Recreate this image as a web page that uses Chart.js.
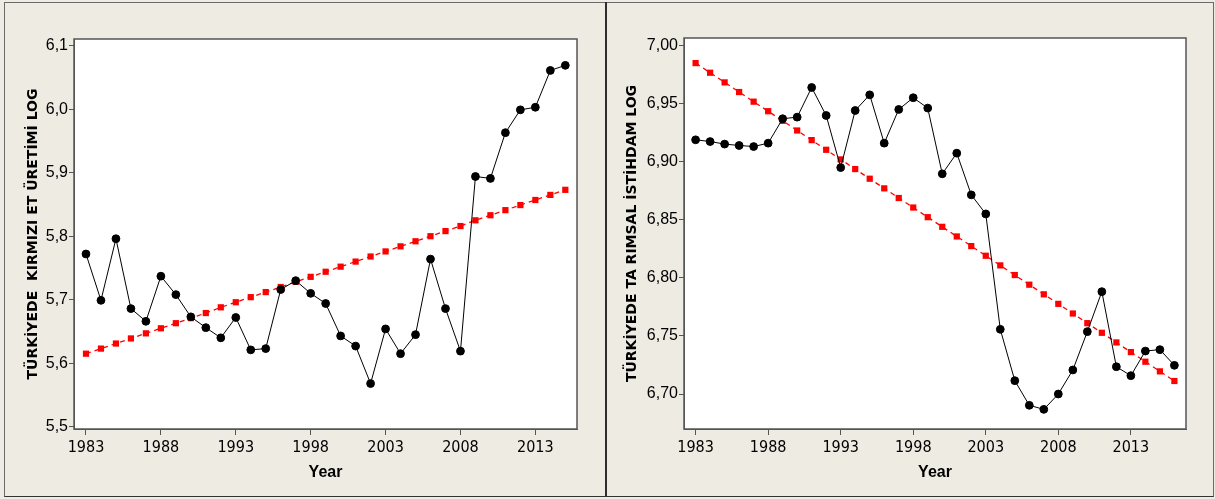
<!DOCTYPE html>
<html>
<head>
<meta charset="utf-8">
<script src="https://cdn.jsdelivr.net/npm/chart.js@4.4.1/dist/chart.umd.min.js"></script>
<style>
  html, body { margin: 0; padding: 0; }
  body { width: 1215px; height: 499px; overflow: hidden; position: relative; background: #eeebe2; }
  .frame { position: absolute; left: 4px; top: 2px; width: 1208px; height: 493px; border: 1px solid #6a6a6a; border-bottom-color: #333; }
  .divider { position: absolute; left: 605px; top: 2px; width: 2px; height: 495px; background: #2e2e2e; }
  .panel { position: absolute; top: 4px; }
</style>
</head>
<body>
<div class="frame"></div>
<div class="divider"></div>
<div class="panel" style="left:6px"><canvas id="chartMeat" width="599" height="492"></canvas></div>
<div class="panel" style="left:608px"><canvas id="chartEmp" width="605" height="492"></canvas></div>
<script>
/* ─── Data ───────────────────────────────────────────────── */
const meatYears = [1983, 1984, 1985, 1986, 1987, 1988, 1989, 1990, 1991, 1992, 1993,
  1994, 1995, 1996, 1997, 1998, 1999, 2000, 2001, 2002, 2003, 2004, 2005, 2006,
  2007, 2008, 2009, 2010, 2011, 2012, 2013, 2014, 2015];
const meatLog = [5.772, 5.699, 5.796, 5.686, 5.666, 5.737, 5.708, 5.673, 5.656, 5.640,
  5.672, 5.621, 5.623, 5.716, 5.730, 5.710, 5.694, 5.643, 5.627, 5.568, 5.654, 5.615,
  5.645, 5.764, 5.686, 5.619, 5.894, 5.891, 5.963, 5.999, 6.003, 6.061, 6.069];
const meatTrend = [5.615, 5.623, 5.631, 5.639, 5.647, 5.655, 5.663, 5.671, 5.679, 5.688,
  5.696, 5.704, 5.712, 5.720, 5.728, 5.736, 5.744, 5.752, 5.760, 5.768, 5.776, 5.784,
  5.792, 5.800, 5.808, 5.816, 5.825, 5.833, 5.841, 5.849, 5.857, 5.865, 5.873];

const empYears = [1983, 1984, 1985, 1986, 1987, 1988, 1989, 1990, 1991, 1992, 1993,
  1994, 1995, 1996, 1997, 1998, 1999, 2000, 2001, 2002, 2003, 2004, 2005, 2006,
  2007, 2008, 2009, 2010, 2011, 2012, 2013, 2014, 2015, 2016];
const empLog = [6.9188, 6.9173, 6.9151, 6.9139, 6.9130, 6.9159, 6.9369, 6.9383, 6.9638,
  6.9397, 6.8949, 6.9440, 6.9575, 6.9159, 6.9449, 6.9550, 6.9461, 6.8895, 6.9073,
  6.8714, 6.8550, 6.7557, 6.7115, 6.6903, 6.6868, 6.7000, 6.7207, 6.7537, 6.7881,
  6.7235, 6.7158, 6.7370, 6.7382, 6.7247];
const empTrend = [6.9848, 6.9765, 6.9682, 6.9599, 6.9516, 6.9434, 6.9351, 6.9268, 6.9185,
  6.9102, 6.9019, 6.8936, 6.8853, 6.8770, 6.8687, 6.8605, 6.8522, 6.8439, 6.8356,
  6.8273, 6.8190, 6.8107, 6.8024, 6.7941, 6.7858, 6.7776, 6.7693, 6.7610, 6.7527,
  6.7444, 6.7361, 6.7278, 6.7195, 6.7112];

const yearTicks = [1983, 1988, 1993, 1998, 2003, 2008, 2013];
const meatTicks = [5.5, 5.6, 5.7, 5.8, 5.9, 6.0, 6.1];
const empTicks  = [6.70, 6.75, 6.80, 6.85, 6.90, 6.95, 7.00];

/* ─── Shared style ───────────────────────────────────────── */
const NARROW = '"Liberation Sans Narrow", "DejaVu Sans Condensed", "Liberation Sans", sans-serif';
const SANS   = '"Liberation Sans", Arial, sans-serif';
const WIDE   = '"DejaVu Sans", Verdana, sans-serif';
const INK    = '#000';
const AXIS   = '#555';

Chart.defaults.font.family = SANS;
Chart.defaults.color = INK;

const plotFrame = {
  id: 'plotFrame',
  beforeDraw(chart) {
    const { ctx, chartArea: a } = chart;
    ctx.save();
    ctx.fillStyle = '#fff';
    ctx.fillRect(a.left, a.top, a.right - a.left, a.bottom - a.top);
    ctx.restore();
  },
  afterDraw(chart) {
    const { ctx, chartArea: a } = chart;
    ctx.save();
    ctx.strokeStyle = AXIS;
    ctx.lineWidth = 1.5;
    ctx.strokeRect(a.left, a.top, a.right - a.left, a.bottom - a.top);
    ctx.restore();
  },
};

const pairs = (xs, ys) => xs.map((x, i) => ({ x, y: ys[i] }));

function observed(xs, ys) {
  return {
    data: pairs(xs, ys),
    borderColor: '#000',
    backgroundColor: '#000',
    borderWidth: 1,
    pointRadius: 3.9,
    pointStyle: 'circle',
    tension: 0,
  };
}

function trend(xs, ys) {
  return {
    data: pairs(xs, ys),
    borderColor: '#f00',
    backgroundColor: '#f00',
    borderWidth: 1.3,
    borderDash: [5, 4],
    pointRadius: 4.4,
    pointStyle: 'rect',
    pointBorderWidth: 0,
    tension: 0,
  };
}

function panel(id, cfg) {
  new Chart(document.getElementById(id), {
    type: 'line',
    data: {
      datasets: [observed(cfg.years, cfg.values), trend(cfg.years, cfg.trend)],
    },
    options: {
      responsive: false,
      animation: false,
      layout: { padding: cfg.padding },
      plugins: { legend: { display: false }, tooltip: { enabled: false } },
      scales: {
        x: {
          type: 'linear',
          min: cfg.xMin, max: cfg.xMax,
          afterBuildTicks: s => { s.ticks = yearTicks.map(v => ({ value: v })); },
          afterFit: s => { s.height = 67; },
          grid: { drawOnChartArea: false, tickLength: 6, color: AXIS },
          border: { color: AXIS },
          ticks: {
            autoSkip: false, maxRotation: 0, padding: 3, color: INK,
            font: { family: NARROW, size: 16 },
            callback: v => String(v),
          },
          title: {
            display: true, text: 'Year', color: INK,
            font: { family: SANS, size: 16, weight: 'bold' },
            padding: { top: 0, bottom: 14 },
          },
        },
        y: {
          min: cfg.yMin, max: cfg.yMax,
          afterBuildTicks: s => { s.ticks = cfg.yTicks.map(v => ({ value: v })); },
          afterFit: s => { s.width = cfg.yWidth; },
          grid: { drawOnChartArea: false, tickLength: 5, color: AXIS },
          border: { color: AXIS },
          ticks: {
            padding: 1, color: INK,
            font: { family: SANS, size: 16 },
            callback: v => v.toFixed(cfg.digits).replace('.', ','),
          },
          title: {
            display: true, text: cfg.yTitle, color: INK,
            font: { family: WIDE, size: 14, weight: 'bold' },
            padding: { top: cfg.titlePad, bottom: 0 },
          },
        },
      },
    },
    plugins: [plotFrame],
  });
}

/* ─── Left: red meat production ──────────────────────────── */
panel('chartMeat', {
  years: meatYears, values: meatLog, trend: meatTrend,
  xMin: 1982.2, xMax: 2015.78,
  yMin: 5.4964, yMax: 6.1105, yTicks: meatTicks, digits: 1,
  yWidth: 68, titlePad: 19,
  padding: { top: 35, right: 28, left: 0, bottom: 0 },
  yTitle: 'TÜRKİYEDE  KIRMIZI ET ÜRETİMİ LOG',
});

/* ─── Right: agricultural employment ─────────────────────── */
panel('chartEmp', {
  years: empYears, values: empLog, trend: empTrend,
  xMin: 1982.2, xMax: 2016.8,
  yMin: 6.6699, yMax: 7.0064, yTicks: empTicks, digits: 2,
  yWidth: 76, titlePad: 16,
  padding: { top: 34, right: 27, left: 0, bottom: 0 },
  yTitle: 'TÜRKİYEDE TA RIMSAL İSTİHDAM LOG',
});
</script>
</body>
</html>
